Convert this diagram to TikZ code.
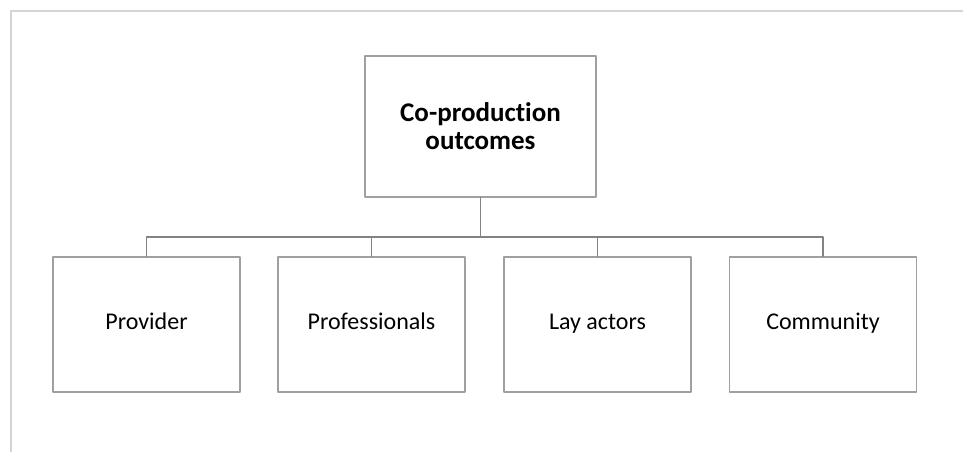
\documentclass[tikz,border=0pt]{standalone}
\usepackage{fontspec}
\setmainfont{Carlito}[Ligatures=NoCommon]
\usetikzlibrary{positioning}
\definecolor{framegray}{RGB}{212,212,212}
\definecolor{boxgray}{RGB}{160,160,160}
\definecolor{linkgray}{RGB}{130,130,130}
\tikzset{
  topbox/.style={draw=boxgray, line width=1.4pt, minimum width=231pt, minimum height=141pt,
    align=center, font=\fontsize{27}{28}\selectfont\bfseries},
  leafbox/.style={draw=boxgray, line width=1.4pt, minimum width=187pt, minimum height=135pt,
    text height=17pt, text depth=6pt, font=\fontsize{24}{29}\selectfont},
  link/.style={draw=linkgray, line width=1.4pt}
}
\begin{document}
\begin{tikzpicture}[x=1pt, y=1pt, line cap=round, line join=round]
\useasboundingbox (0,0) rectangle (963,452);
% frame
\draw [color=framegray, line width=1.5pt] (11,0) -- (11,441) -- (963,441);
% boxes
\node [topbox] (outcomes) at (480.5,325.5) {Co-production\\outcomes};
\node [leafbox] (provider) at (146.5,127.5) {Provider};
\node [leafbox] (professionals) at (371.5,127.5) {Professionals};
\node [leafbox] (layactors) at (597.5,127.5) {Lay actors};
\node [leafbox] (community) at (823,127.5) {Community};
% tree
\coordinate (bus) at (480.5,215);
\draw [link] (outcomes.south) -- (bus);
\foreach \leaf in {provider,professionals,layactors,community}
  \draw [link] (\leaf.north) |- (bus);
\end{tikzpicture}
\end{document}
